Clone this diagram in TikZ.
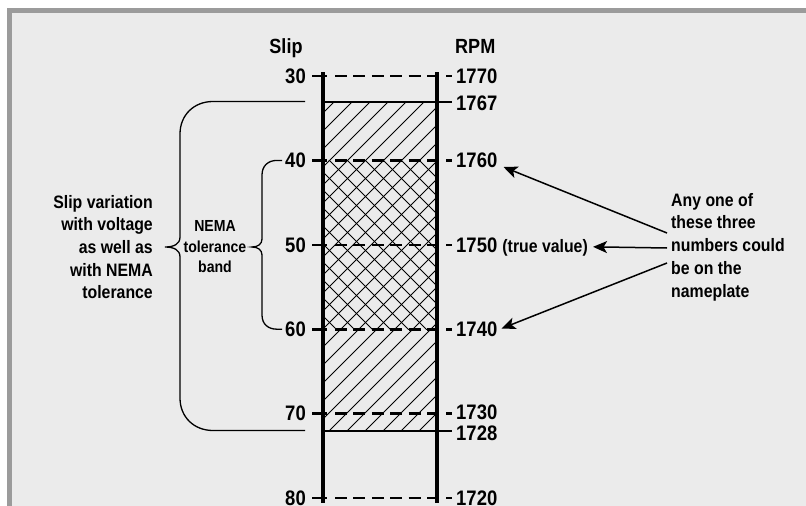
\documentclass[tikz,border=0pt]{standalone}
\usepackage{fontspec}
\setmainfont{Liberation Sans}[FakeStretch=0.88]
\usetikzlibrary{arrows.meta,calc}
\definecolor{framegray}{HTML}{9B9B9B}
\definecolor{panel}{HTML}{EBEBEB}
\tikzset{
  numlab/.style={inner sep=0pt, font=\fontsize{21}{24}\selectfont\bfseries},
  headlab/.style={inner sep=0pt, font=\fontsize{20.5}{24}\selectfont\bfseries},
  desc/.style={inner sep=0pt, font=\fontsize{18}{22.7}\selectfont\bfseries},
  thickbar/.style={line width=3.6pt},
  tickline/.style={line width=2.6pt},
  dashrow/.style={line width=2.6pt, dash pattern=on 12pt off 6.4pt},
  limitline/.style={line width=2pt},
  hatchline/.style={line width=0.8pt},
  braceline/.style={line width=1.3pt},
  pointer/.style={line width=1.5pt, -{Stealth[length=14pt,width=12pt,inset=3.5pt]}}
}
\begin{document}
\begin{tikzpicture}[x=1pt,y=-1pt]
\useasboundingbox (0,0) rectangle (806,506);
% frame
\fill[white] (0,0) rectangle (806,506);
\fill[framegray] (7,8) rectangle (806,506);
\fill[panel] (12,13) rectangle (806,506);

% hatching
\begin{scope}
  \clip (323,101.5) rectangle (437,430.5);
  \foreach \c in {436,454,...,890} \draw[hatchline] (300,\c-300) -- (460,\c-460);
\end{scope}
\begin{scope}
  \clip (323,160.4) rectangle (437,329.2);
  \foreach \d in {-277,-259,...,17} \draw[hatchline] (300,300+\d) -- (460,460+\d);
\end{scope}

% dashed rows
\foreach \yy in {76,160.4,244.8,329.2,413.6,498} {
  \draw[tickline] (312,\yy) -- (327,\yy);
  \draw[dashrow] (335,\yy) -- (439,\yy);
  \draw[tickline] (446,\yy) -- (452,\yy);
}
% limit lines
\draw[limitline] (323,101.5) -- (452,101.5);
\draw[limitline] (323,430.5) -- (452,430.5);

% bars
\draw[thickbar] (323,72) -- (323,503);
\draw[thickbar] (437,72) -- (437,503);

% headers
\node[headlab, anchor=base] (hslip) at (286,53) {Slip};
\node[headlab, anchor=base west] (hrpm) at (455,53) {RPM};

% slip labels
\node[numlab, anchor=east] (s30) at (306,76) {30};
\node[numlab, anchor=east] (s40) at (306,160.4) {40};
\node[numlab, anchor=east] (s50) at (306,244.8) {50};
\node[numlab, anchor=east] (s60) at (306,329.2) {60};
\node[numlab, anchor=east] (s70) at (306,413) {70};
\node[numlab, anchor=east] (s80) at (306,498) {80};

% rpm labels
\node[numlab, anchor=west] (r1770) at (456,76.5) {1770};
\node[numlab, anchor=west] (r1767) at (456,103) {1767};
\node[numlab, anchor=west] (r1760) at (456,160) {1760};
\node[numlab, anchor=base west] (r1750) at (456,252.3) {1750 {\fontsize{18}{20}\selectfont(true value)}};
\node[numlab, anchor=west] (r1740) at (456,329.5) {1740};
\node[numlab, anchor=west] (r1730) at (456,412.5) {1730};
\node[numlab, anchor=west] (r1728) at (456,433.5) {1728};
\node[numlab, anchor=west] (r1720) at (456,498) {1720};

% descriptive texts
\node[desc, align=right, anchor=east] (vartext) at (153,247) {Slip variation\\with voltage\\as well as\\with NEMA\\tolerance};
\node[desc, align=center, font=\fontsize{16}{20.5}\selectfont\bfseries] (nematext) at (215,247) {NEMA\\tolerance\\band};
\node[desc, align=left, anchor=west] (anytext) at (671,247) {Any one of\\these three\\numbers could\\be on the\\nameplate};

% braces
\coordinate (bigtop) at (305,101.5);
\coordinate (bigbot) at (305,430.5);
\draw[braceline] (bigtop) -- (213,101.5) .. controls (194,101.5) and (180,115) .. (180,134)
  -- (180,237) .. controls (180,244) and (174,247) .. (165,247)
  .. controls (174,247) and (180,250) .. (180,257)
  -- (180,398) .. controls (180,417) and (194,430.5) .. (213,430.5) -- (bigbot);
\coordinate (smtop) at (282,160.4);
\coordinate (smbot) at (282,329.2);
\draw[braceline] (smtop) -- (277,160.4) .. controls (268,160.4) and (262,166) .. (262,175)
  -- (262,239) .. controls (262,244) and (258,247) .. (252,247)
  .. controls (258,247) and (262,250) .. (262,255)
  -- (262,315) .. controls (262,324) and (268,329.2) .. (277,329.2) -- (smbot);

% arrows
\draw[pointer] ([xshift=-4pt,yshift=14pt]anytext.west) -- ([xshift=6pt,yshift=-7pt]r1760.east);
\draw[pointer] ([xshift=-4pt,yshift=-1pt]anytext.west) -- ($(r1750.east)+(5,0)$ |- 0,248);
\draw[pointer] ([xshift=-4pt,yshift=-16pt]anytext.west) -- ([xshift=4pt,yshift=1pt]r1740.east);
\end{tikzpicture}
\end{document}
